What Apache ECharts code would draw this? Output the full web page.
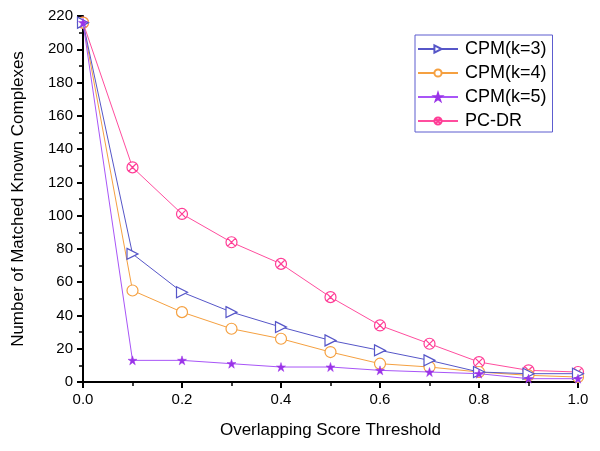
<!DOCTYPE html>
<html>
<head>
<meta charset="utf-8">
<script src="https://cdn.jsdelivr.net/npm/echarts@6/dist/echarts.min.js"></script>
<style>html,body{margin:0;padding:0;background:#fff}#c{width:600px;height:451px}</style>
</head>
<body>
<div id="c"></div>
<script>
const xValues = [0.0, 0.1, 0.2, 0.3, 0.4, 0.5, 0.6, 0.7, 0.8, 0.9, 1.0];
const seriesNames = ['CPM(k=3)', 'CPM(k=4)', 'CPM(k=5)', 'PC-DR'];
const cpm3 = [216, 77, 54, 42, 33, 25, 19, 13, 6, 5, 5];
const cpm4 = [216, 55, 42, 32, 26, 18, 11, 9, 6, 4, 3];
const cpm5 = [216, 13, 13, 11, 9, 9, 7, 6, 5, 2, 2];
const pcdr = [216, 129, 101, 84, 71, 51, 34, 23, 12, 7, 6];
const yTicks = [0, 220, 20];
const xTicks = [0, 1, 0.2];

const triPath = 'path://M0,0 L10,5 L0,10 Z';
const starPath = 'path://M5,0 L6.2,3.6 L10,3.6 L6.9,5.8 L8.1,9.5 L5,7.2 L1.9,9.5 L3.1,5.8 L0,3.6 L3.8,3.6 Z';
const crossCircle = 'path://M5,0 A5,5 0 1,1 4.99,0 Z M1.5,1.5 L8.5,8.5 M8.5,1.5 L1.5,8.5';

function pts(arr){ return arr.map((v,i)=>[xValues[i], v]); }

const font = 'Liberation Sans, Arial';
const chart = echarts.init(document.getElementById('c'));
chart.setOption({
  animation: false,
  backgroundColor: '#fff',
  grid: {left: 83, right: 22, top: 16, bottom: 69, containLabel: false},
  legend: {
    orient: 'vertical',
    left: 415, top: 35,
    padding: [5, 6, 2, 2],
    itemGap: 6,
    itemWidth: 40, itemHeight: 9,
    borderColor: '#5d5dcf', borderWidth: 1,
    textStyle: {fontFamily: font, fontSize: 18, color: '#000', padding: [0, 0, 0, 2]},
    data: seriesNames
  },
  xAxis: {
    type: 'value', min: xTicks[0], max: xTicks[1], interval: xTicks[2],
    name: 'Overlapping Score Threshold', nameLocation: 'middle', nameGap: 40,
    nameTextStyle: {fontFamily: font, fontSize: 17, color: '#000'},
    axisLine: {lineStyle: {color: '#000', width: 2}},
    axisTick: {length: 6, lineStyle: {color: '#000', width: 2}},
    minorTick: {show: true, splitNumber: 2, length: 4, lineStyle: {color: '#000', width: 1.5}},
    axisLabel: {fontFamily: font, fontSize: 15, color: '#000', margin: 10,
      formatter: v => v.toFixed(1)},
    splitLine: {show: false}
  },
  yAxis: {
    type: 'value', min: yTicks[0], max: yTicks[1], interval: yTicks[2],
    name: 'Number of Matched Known Complexes', nameLocation: 'middle', nameGap: 56,
    nameTextStyle: {fontFamily: font, fontSize: 17, color: '#000'},
    axisLine: {show: true, lineStyle: {color: '#000', width: 2}},
    axisTick: {show: true, length: 6, lineStyle: {color: '#000', width: 2}},
    minorTick: {show: true, splitNumber: 2, length: 4, lineStyle: {color: '#000', width: 1.5}},
    axisLabel: {fontFamily: font, fontSize: 15, color: '#000', margin: 10},
    splitLine: {show: false}
  },
  series: [
    {name: seriesNames[0], type: 'line', data: pts(cpm3), symbol: triPath, symbolSize: [11, 11],
     lineStyle: {color: '#5656c8', width: 1}, itemStyle: {color: '#fff', borderColor: '#5656c8', borderWidth: 1.2}, z: 3},
    {name: seriesNames[1], type: 'line', data: pts(cpm4), symbol: 'circle', symbolSize: 11,
     lineStyle: {color: '#f5a040', width: 1}, itemStyle: {color: '#fff', borderColor: '#f5a040', borderWidth: 1.2}, z: 2},
    {name: seriesNames[2], type: 'line', data: pts(cpm5), symbol: starPath, symbolSize: 9,
     lineStyle: {color: '#a855f7', width: 1}, itemStyle: {color: '#9a33e8', borderColor: '#9a33e8', borderWidth: 0.5}, z: 4},
    {name: seriesNames[3], type: 'line', data: pts(pcdr), symbol: crossCircle, symbolSize: 11,
     lineStyle: {color: '#ff4d9e', width: 1}, itemStyle: {color: '#fff', borderColor: '#ff3d96', borderWidth: 1.2}, z: 1}
  ]
});
</script>
</body>
</html>
